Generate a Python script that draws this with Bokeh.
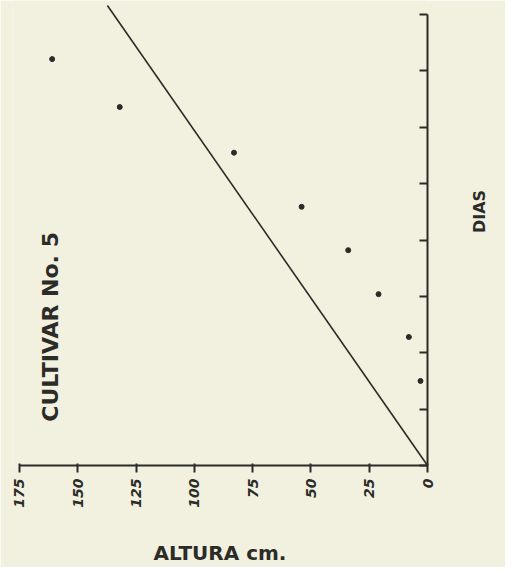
import math
from bokeh.plotting import figure
from bokeh.models import Range1d, FixedTicker, Label
from bokeh.embed import file_html
from bokeh.resources import INLINE

# ---- data ----
altura_cm = [161, 132, 83, 54, 34, 21, 8, 3]          # ALTURA cm.
dias = [7.21, 6.36, 5.55, 4.59, 3.82, 3.04, 2.28, 1.50]  # DIAS (in tick units)
recta_altura = [0, 137.3]   # fitted straight line through origin
recta_dias = [0, 8.16]
altura_ticks = [0, 25, 50, 75, 100, 125, 150, 175]
altura_tick_labels = ["0", "25", "50", "75", "100", "125", "150", "175"]
dias_ticks = [0, 1, 2, 3, 4, 5, 6, 7, 8]

title_text = "CULTIVAR No. 5"
x_title = "ALTURA cm."
y_title = "DIAS"

paper = "#F2F1DF"
ink = "#2b2b28"
font = "DejaVu Sans"

p = figure(width=505, height=567, output_backend="svg", toolbar_location=None,
           x_range=Range1d(178, 0), y_range=Range1d(0, 8.25),
           y_axis_location="right",
           min_border_left=12, min_border_top=0, min_border_right=78, min_border_bottom=100)
p.background_fill_color = paper
p.border_fill_color = paper
p.outline_line_color = None
p.grid.visible = False

xa = p.xaxis[0]
xa.bounds = (0, 175)
xa.ticker = FixedTicker(ticks=altura_ticks)
xa.major_label_overrides = {t: l for t, l in zip(altura_ticks, altura_tick_labels)}
xa.major_label_orientation = math.pi / 2
xa.major_label_text_font = font
xa.major_label_text_font_style = "bold italic"
xa.major_label_text_font_size = "14px"
xa.major_label_text_color = ink
xa.major_label_standoff = 6
xa.major_tick_in = 2
xa.major_tick_out = 7
xa.minor_tick_line_color = None
xa.axis_line_color = ink
xa.axis_line_width = 2
xa.major_tick_line_color = ink
xa.major_tick_line_width = 2
xa.axis_label = x_title
xa.axis_label_text_font = font
xa.axis_label_text_font_style = "bold"
xa.axis_label_text_font_size = "20px"
xa.axis_label_text_color = ink
xa.axis_label_standoff = 30

ya = p.yaxis[0]
ya.bounds = (0, 8)
ya.ticker = FixedTicker(ticks=dias_ticks)
ya.major_label_overrides = {t: "" for t in dias_ticks}
ya.major_tick_in = 8
ya.major_tick_out = 0
ya.minor_tick_line_color = None
ya.axis_line_color = ink
ya.axis_line_width = 2
ya.major_tick_line_color = ink
ya.major_tick_line_width = 2
ya.axis_label = y_title
ya.axis_label_orientation = math.pi / 2
ya.axis_label_text_font = font
ya.axis_label_text_font_style = "bold"
ya.axis_label_text_font_size = "16px"
ya.axis_label_text_color = ink
ya.axis_label_standoff = 52

p.line(recta_altura, recta_dias, line_color=ink, line_width=1.6)
p.scatter(altura_cm, dias, size=5, color=ink)

p.add_layout(Label(x=161.7, y=2.46, text=title_text, angle=math.pi / 2,
                   text_align="center", text_baseline="middle",
                   text_font=font, text_font_style="bold",
                   text_font_size="22px", text_color=ink))

open("out.html", "w").write(file_html(p, INLINE))
